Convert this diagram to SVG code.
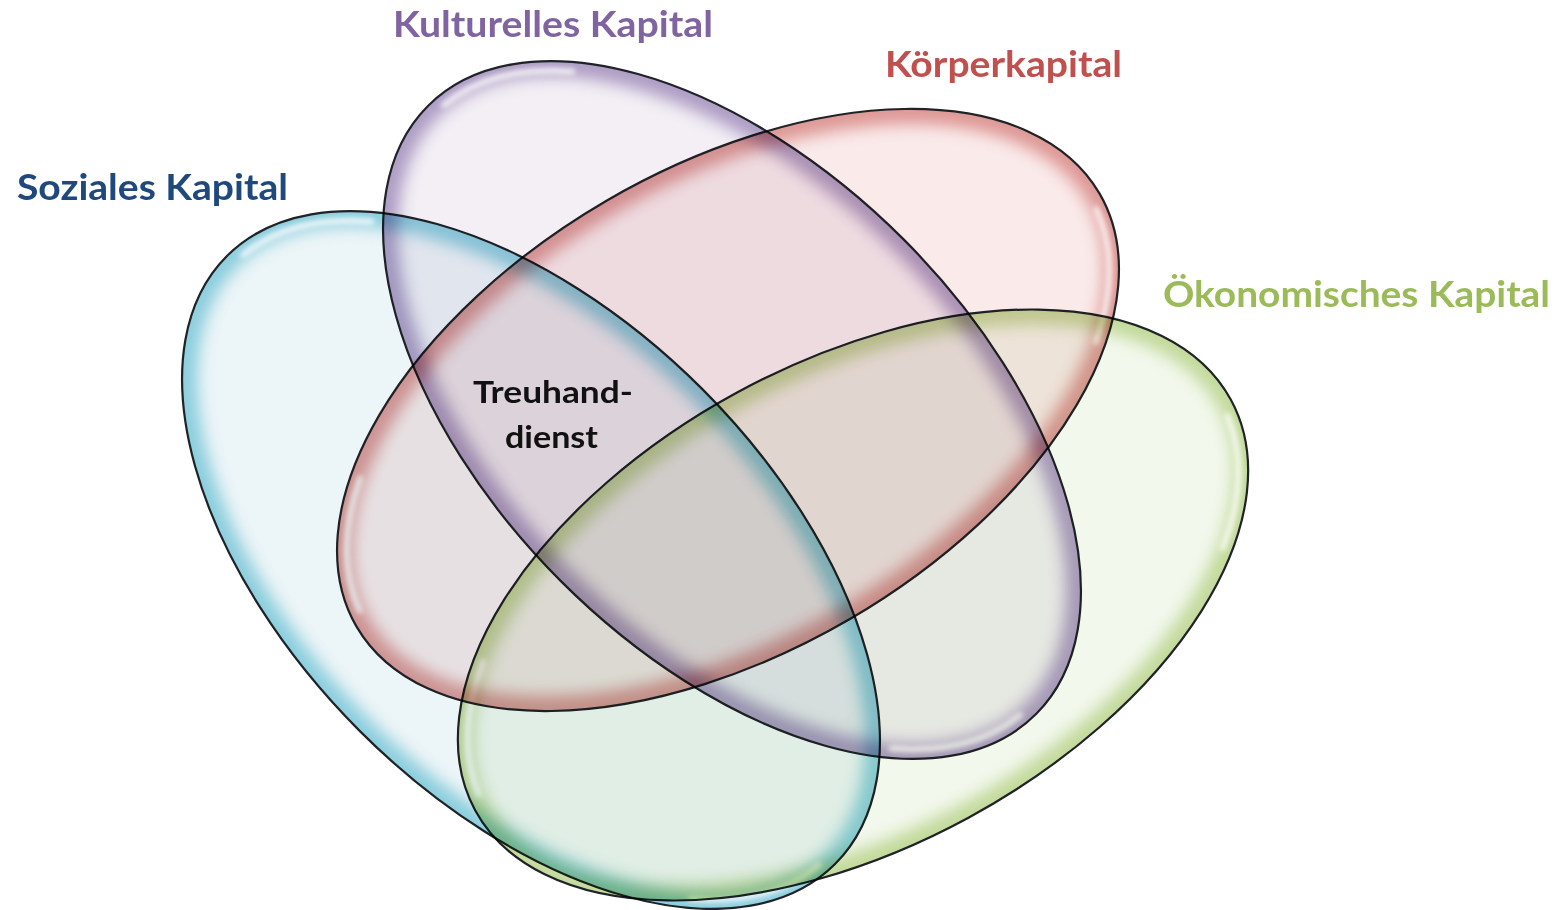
<svg xmlns="http://www.w3.org/2000/svg" xmlns:xlink="http://www.w3.org/1999/xlink" width="1562" height="910" viewBox="0 0 1562 910">
  <style>
    .shape { mix-blend-mode: multiply; }
    .rim { fill: none; stroke-width: 30; filter: url(#soft); opacity: 0.6; }
    .outline { fill: none; stroke: #1f2226; stroke-width: 2.2; }
    .hl { fill: none; stroke: #ffffff; stroke-width: 6; stroke-linecap: round; opacity: 0.75; filter: url(#softHl); }
    .label { font-family: Lato, "Open Sans", "Liberation Sans", sans-serif; font-weight: 700; font-size: 36px; }
    .center { font-family: Lato, "Open Sans", "Liberation Sans", sans-serif; font-weight: 700; font-size: 31px; fill: #111111; }
  </style>
  <defs>
    <ellipse id="egg" cx="0" cy="0" rx="430" ry="242"/>
    <clipPath id="eggClip" clipPathUnits="userSpaceOnUse">
      <ellipse cx="0" cy="0" rx="430" ry="242"/>
    </clipPath>
    <path id="hl" d="M -419.4 -12.2 A 420 232 0 0 1 -352.3 -126.4 M 419.4 12.2 A 420 232 0 0 1 352.3 126.4"/>
    <filter id="soft" x="-10%" y="-10%" width="120%" height="120%">
      <feGaussianBlur stdDeviation="8"/>
    </filter>
    <filter id="softHl" x="-10%" y="-10%" width="120%" height="120%">
      <feGaussianBlur stdDeviation="2.4"/>
    </filter>
  </defs>

  <rect x="0" y="0" width="1562" height="910" fill="#ffffff"/>

  <g id="soziales-kapital">
    <g class="shape" transform="translate(531,560) rotate(45)">
      <use xlink:href="#egg" fill="#ecf5f8"/>
      <use xlink:href="#egg" class="rim" stroke="#49b3cb" clip-path="url(#eggClip)"/>
      <use xlink:href="#hl" class="hl"/>
      <use xlink:href="#egg" class="outline"/>
    </g>
    <text class="label" x="17" y="200" fill="#1f497d" textLength="271" lengthAdjust="spacingAndGlyphs">Soziales Kapital</text>
  </g>

  <g id="kulturelles-kapital">
    <g class="shape" transform="translate(732,410) rotate(45)">
      <use xlink:href="#egg" fill="#f3eff5"/>
      <use xlink:href="#egg" class="rim" stroke="#7f65a3" clip-path="url(#eggClip)"/>
      <use xlink:href="#hl" class="hl"/>
      <use xlink:href="#egg" class="outline"/>
    </g>
    <text class="label" x="393" y="37" fill="#8064a2" textLength="320" lengthAdjust="spacingAndGlyphs">Kulturelles Kapital</text>
  </g>

  <g id="koerperkapital">
    <g class="shape" transform="translate(728,410) rotate(-30.25)">
      <use xlink:href="#egg" fill="#faeaea"/>
      <use xlink:href="#egg" class="rim" stroke="#c9605c" clip-path="url(#eggClip)"/>
      <use xlink:href="#hl" class="hl"/>
      <use xlink:href="#egg" class="outline"/>
    </g>
    <text class="label" x="885" y="77" fill="#c0504d" textLength="237" lengthAdjust="spacingAndGlyphs">Körperkapital</text>
  </g>

  <g id="oekonomisches-kapital">
    <g class="shape" transform="translate(853,605) rotate(-28.5)">
      <use xlink:href="#egg" fill="#f2f8ec"/>
      <use xlink:href="#egg" class="rim" stroke="#a3c463" clip-path="url(#eggClip)"/>
      <use xlink:href="#hl" class="hl"/>
      <use xlink:href="#egg" class="outline"/>
    </g>
    <text class="label" x="1163" y="307" fill="#9bbb59" textLength="387" lengthAdjust="spacingAndGlyphs">Ökonomisches Kapital</text>
  </g>

  <g id="treuhanddienst">
    <text class="center" x="473" y="403" textLength="160" lengthAdjust="spacingAndGlyphs">Treuhand-</text>
    <text class="center" x="505" y="448" textLength="93" lengthAdjust="spacingAndGlyphs">dienst</text>
  </g>

  <g id="connectors"/>
</svg>
